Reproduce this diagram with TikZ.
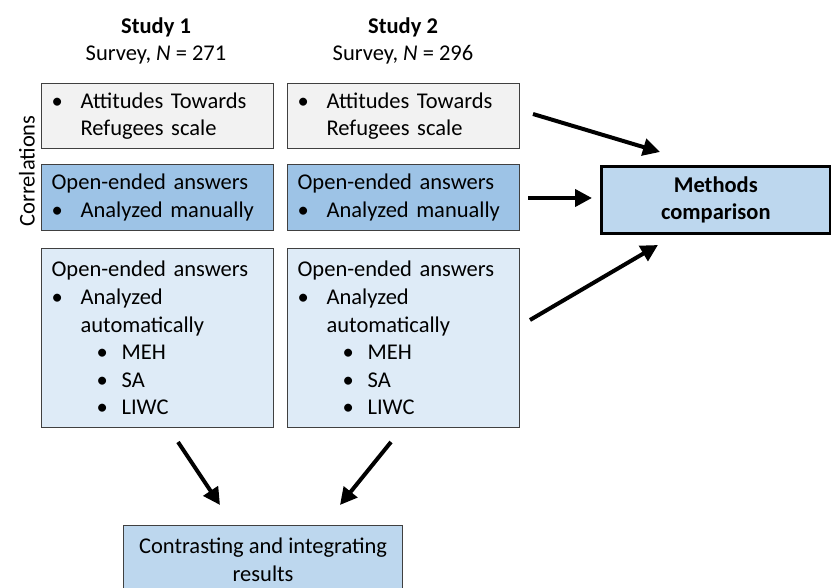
\documentclass[tikz,border=0pt]{standalone}
\usepackage{fontspec}
\setmainfont{Carlito}
\usetikzlibrary{arrows.meta}

\definecolor{greyfill}{HTML}{F2F2F2}
\definecolor{midblue}{HTML}{9DC3E6}
\definecolor{paleblue}{HTML}{DEEBF7}
\definecolor{softblue}{HTML}{BDD7EE}
\definecolor{edgegrey}{HTML}{404040}

\newcommand{\bl}{\makebox[29pt][l]{\textbullet}}
\newcommand{\ind}{\hspace*{29pt}}
\newcommand{\subbl}{\hspace*{45pt}\makebox[25pt][l]{\textbullet}}

\tikzset{
  txt/.style={font=\fontsize{22.5}{27.6}\selectfont},
  box/.style={txt, draw=edgegrey, line width=1.2pt, anchor=north west,
    align=left, inner xsep=10pt, inner ysep=4pt, text width=212pt},
  arr/.style={line width=4pt, -{Triangle[length=17pt,width=17pt]}}
}

\begin{document}
\begin{tikzpicture}[x=1pt,y=-1pt]
\useasboundingbox (0,0) rectangle (831,588);

\node[txt,font=\fontsize{22.5}{27.6}\selectfont\bfseries] (t1) at (156,27) {Study 1};
\node[txt] (n1) at (156,55) {Survey, \textit{N} = 271};
\node[txt,font=\fontsize{22.5}{27.6}\selectfont\bfseries] (t2) at (403,27) {Study 2};
\node[txt] (n2) at (403,55) {Survey, \textit{N} = 296};

\node[txt,rotate=90] (corr) at (27,171) {Correlations};

% study 1
\node[box,fill=greyfill,minimum height=65pt] (a1) at (41,83) {\bl Attitudes Towards\\\ind Refugees scale};
\node[box,fill=midblue,minimum height=66pt] (b1) at (41,164) {Open-ended answers\\\bl Analyzed manually};
\node[box,fill=paleblue,minimum height=179pt] (c1) at (41,248) {Open-ended answers\\\bl Analyzed\\\ind automatically\\\subbl MEH\\\subbl SA\\\subbl LIWC};

% study 2
\node[box,fill=greyfill,minimum height=65pt] (a2) at (287,83) {\bl Attitudes Towards\\\ind Refugees scale};
\node[box,fill=midblue,minimum height=66pt] (b2) at (287,164) {Open-ended answers\\\bl Analyzed manually};
\node[box,fill=paleblue,minimum height=179pt] (c2) at (287,248) {Open-ended answers\\\bl Analyzed\\\ind automatically\\\subbl MEH\\\subbl SA\\\subbl LIWC};

\node[txt,draw=black,line width=2.6pt,fill=softblue,align=center,font=\fontsize{22.5}{27.6}\selectfont\bfseries,
  minimum width=229pt,minimum height=67pt,anchor=north west] (mc) at (600,165) {Methods\\comparison};

\node[txt,draw=edgegrey,line width=1.2pt,fill=softblue,align=center,
  minimum width=279pt,minimum height=68pt,anchor=north west] (res) at (123,525) {Contrasting and integrating\\results};

\coordinate (p1) at (533,114);
\coordinate (q1) at (660,152);
\coordinate (p2) at (528,198);
\coordinate (q2) at (592,198);
\coordinate (p3) at (530,320);
\coordinate (q3) at (658,245);
\coordinate (p4) at (178,442);
\coordinate (q4) at (220,505);
\coordinate (p5) at (391,442);
\coordinate (q5) at (340,505);

\draw[arr] (p1) -- (q1);
\draw[arr] (p2) -- (q2);
\draw[arr] (p3) -- (q3);
\draw[arr] (p4) -- (q4);
\draw[arr] (p5) -- (q5);

\end{tikzpicture}
\end{document}
